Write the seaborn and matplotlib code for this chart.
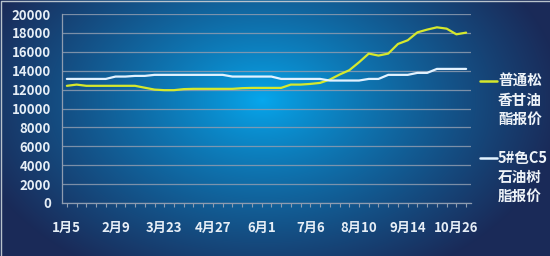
import numpy as np
import pandas as pd
import matplotlib
matplotlib.use("Agg")
import matplotlib.pyplot as plt
from matplotlib.lines import Line2D
import seaborn as sns

dates = ["1月5", "1月12", "1月19", "1月26", "2月2", "2月9", "2月23", "3月2", "3月9", "3月16",
         "3月23", "3月30", "4月6", "4月13", "4月20", "4月27", "5月4", "5月11", "5月18", "5月25",
         "6月1", "6月8", "6月15", "6月22", "6月29", "7月6", "7月13", "7月20", "7月27", "8月3",
         "8月10", "8月17", "8月24", "8月31", "9月7", "9月14", "9月21", "9月28", "10月12", "10月19",
         "10月26", "11月2"]
rosin = [12400, 12530, 12400, 12400, 12400, 12400, 12400, 12400, 12200, 12000,
         11940, 11940, 12050, 12080, 12080, 12080, 12080, 12080, 12150, 12180,
         12180, 12180, 12180, 12530, 12530, 12600, 12710, 13060, 13590, 14050,
         14890, 15810, 15600, 15810, 16830, 17220, 18060, 18350, 18590, 18450,
         17850, 18030]
c5 = [13130, 13130, 13130, 13130, 13130, 13380, 13380, 13450, 13450, 13560,
      13560, 13560, 13560, 13560, 13560, 13560, 13560, 13380, 13380, 13380,
      13380, 13380, 13130, 13130, 13130, 13130, 13130, 12960, 12960, 12960,
      12960, 13130, 13130, 13560, 13560, 13560, 13770, 13770, 14190, 14190,
      14190, 14190]
name_rosin = "普通松香甘油酯报价"
name_c5 = "5#色C5石油树脂报价"
yticks = list(range(0, 20001, 2000))

df = pd.DataFrame({"idx": range(len(dates)), "date": dates,
                   name_rosin: rosin, name_c5: c5})
long = df.melt(id_vars=["idx", "date"], var_name="series", value_name="price")

sns.set_theme(style="white")
plt.rcParams["font.family"] = ["Noto Sans CJK SC", "DejaVu Sans"]

W, H = 550, 256
fig = plt.figure(figsize=(W / 100, H / 100), dpi=100)

# background radial gradient
bg = fig.add_axes([0, 0, 1, 1], zorder=-5)
yy, xx = np.mgrid[0:H, 0:W]
t = np.sqrt(((xx - 262) / 300.0) ** 2 + ((yy - 100) / 200.0) ** 2)
t = np.clip(t, 0, 1) ** 0.85
c0 = np.array([6, 168, 238]) / 255.0
c1 = np.array([26, 42, 88]) / 255.0
img = c0[None, None, :] * (1 - t[..., None]) + c1[None, None, :] * t[..., None]
bg.imshow(img, aspect="auto", extent=[0, W, H, 0], interpolation="bilinear")
bg.set_xlim(0, W)
bg.set_ylim(H, 0)
bg.plot([0.5, 0.5, W], [H, 0.5, 0.5], color="#b8c2cc", linewidth=1.0)
bg.set_axis_off()

ax = fig.add_axes([62 / W, (H - 203) / H, (471 - 62) / W, (203 - 14) / H])
ax.set_facecolor("none")
sns.lineplot(data=long, x="idx", y="price", hue="series",
             palette={name_rosin: "#d6e82c", name_c5: "#e2f2ff"},
             linewidth=1.6, ax=ax, legend=False, sort=False)

ax.set_xlim(-0.5, len(dates) - 0.5)
ax.set_ylim(0, 20000)
ax.set_yticks(yticks)
ax.set_yticklabels([str(v) for v in yticks])
ax.set_xticks(range(len(dates)))
ax.set_xticklabels([d if i % 5 == 0 else "" for i, d in enumerate(dates)])
ax.grid(axis="y", color="#8e9cb0", linewidth=0.9, alpha=0.85)
ax.set_axisbelow(True)
for s in ["top", "right"]:
    ax.spines[s].set_visible(False)
for s in ["left", "bottom"]:
    ax.spines[s].set_color("#8e9cb0")
    ax.spines[s].set_linewidth(0.9)
ax.tick_params(axis="x", which="major", direction="out", length=3, width=0.8,
               color="#8e9cb0", bottom=True, pad=10, labelsize=9.5,
               labelcolor="#e6eef6")
ax.tick_params(axis="y", length=0, pad=8, labelsize=9.5, labelcolor="#e6eef6")
for lab in ax.get_xticklabels() + ax.get_yticklabels():
    lab.set_fontweight("bold")
ax.set_xlabel("")
ax.set_ylabel("")

# legend (manual, wrapped text)
def legend_entry(y_px, color, lines):
    fig.add_artist(Line2D([480 / W, 497 / W], [1 - y_px / H, 1 - y_px / H],
                          color=color, linewidth=1.8, transform=fig.transFigure))
    for k, txt in enumerate(lines):
        fig.text(498 / W, 1 - (y_px + 19 * k) / H, txt, color="#eef3f8",
                 fontsize=10.5, fontweight="bold", va="center", ha="left")

legend_entry(81, "#d6e82c", ["普通松", "香甘油", "酯报价"])
legend_entry(158, "#e2f2ff", ["5#色C5", "石油树", "脂报价"])

fig.savefig("out.png", dpi=100)
